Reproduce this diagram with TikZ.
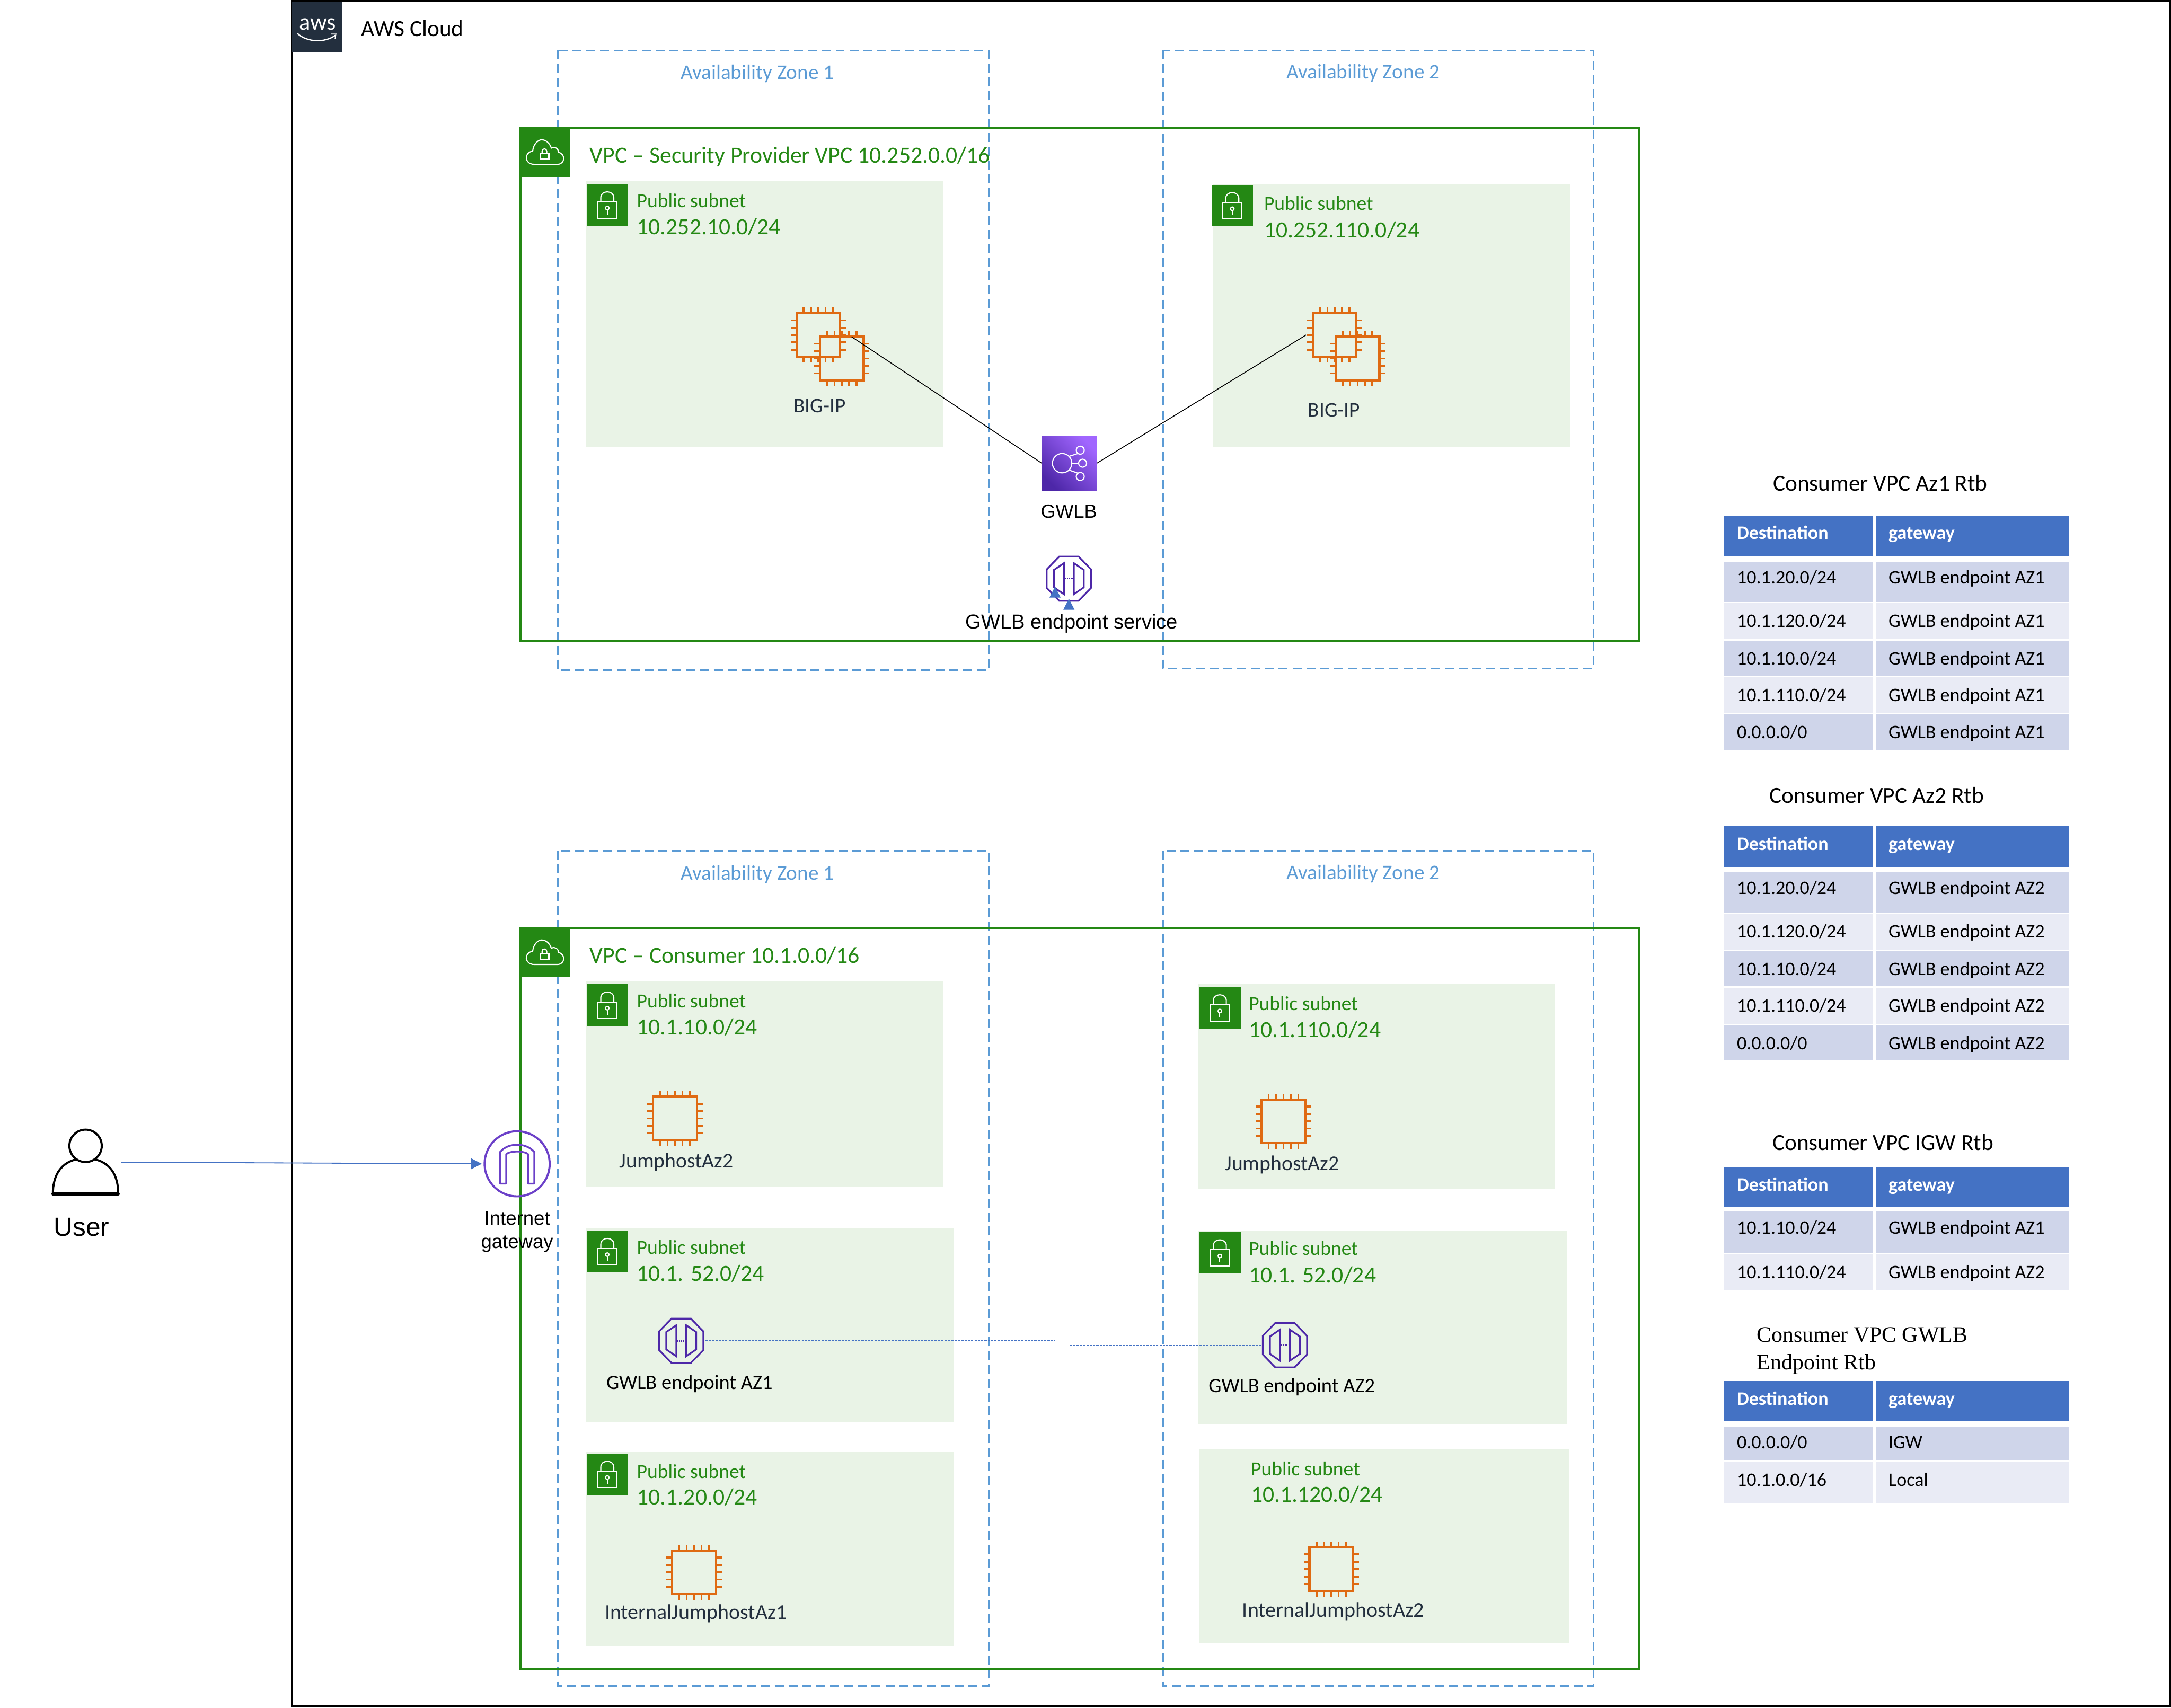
\documentclass[tikz,border=0pt]{standalone}
\usepackage{fontspec}
\setmainfont{Carlito}
\newfontfamily\arialf{Liberation Sans}
\newfontfamily\timesf{Liberation Serif}
\usetikzlibrary{arrows.meta,shadings}
\definecolor{awsdark}{HTML}{232F3E}
\definecolor{awsgreen}{HTML}{248814}
\definecolor{azblue}{HTML}{5B9BD5}
\definecolor{subnetbg}{HTML}{E9F3E6}
\definecolor{chiporange}{HTML}{DF6A12}
\definecolor{eppurple}{HTML}{4D27A8}
\definecolor{igwpurple}{HTML}{6B40C8}
\definecolor{lblue}{HTML}{4472C4}
\definecolor{rowa}{HTML}{CFD5EA}
\definecolor{rowb}{HTML}{E9EBF5}
\tikzset{
  fs/.style={font=\fontsize{#1}{#1}\selectfont,text height=0.66*#1 pt,text depth=0pt,inner sep=0pt,outer sep=0pt},
  azbox/.style={draw=azblue,line width=1.1pt,dash pattern=on 6.5pt off 3.5pt},
  vpcbox/.style={draw=awsgreen,line width=1.5pt},
  subnetbox/.style={fill=subnetbg},
  greenicon/.style={fill=awsgreen},
  whiteline/.style={draw=white,line width=0.8pt},
  chipbody/.style={draw=chiporange,line width=1.6pt,minimum size=31.5pt,inner sep=0pt,outer sep=0pt},
  chippin/.style={draw=chiporange,line width=1.3pt},
  eplink/.style={draw=lblue,line width=0.5pt,dash pattern=on 1.6pt off 0.8pt,-{Triangle[length=8pt,width=8pt,fill=lblue]}},
  eppath/.style={draw=eppurple,line width=1.2pt,line join=miter},
  hollow/.style={minimum size=32pt,inner sep=0pt,outer sep=0pt},
  glabel/.style={text=awsgreen},
  dlabel/.style={text=awsdark},
  azlabel/.style={text=azblue},
}
\newcommand{\txt}[6]{\node[fs=#5,anchor=#4] (#1) at (#2,#3) {#6};}
\newcommand{\gtxt}[5]{\node[fs=#4,anchor=west,glabel] (#1) at (#2,#3) {#5};}
\newcommand{\dtxt}[5]{\node[fs=#4,anchor=center,dlabel] (#1) at (#2,#3) {#5};}
\newcommand{\aztxt}[4]{\node[fs=15,anchor=center,azlabel] (#1) at (#2,#3) {#4};}
\newcommand{\lockicon}[3]{%
  \fill[greenicon] (#2-15,#3-15) rectangle (#2+15,#3+15);
  \begin{scope}[shift={(#2,#3)}]
    \draw[whiteline] (-7,-2.2) rectangle (7,9.7);
    \draw[whiteline] (-4.7,-2.2) -- (-4.7,-5.2) .. controls (-4.7,-10.8) and (4.7,-10.8) .. (4.7,-5.2) -- (4.7,-2.2);
    \draw[whiteline] (0,2.3) circle (1.3);
    \draw[whiteline] (0,3.6) -- (0,7);
  \end{scope}}
\newcommand{\cloudicon}[2]{%
  \fill[greenicon] (#1-17.7,#2-18) rectangle (#1+17.7,#2+18);
  \begin{scope}[shift={(#1,#2)}]
    \draw[whiteline] (-8,8.7) .. controls (-15,8.7) and (-15.5,0) .. (-9,-0.8) .. controls (-8.5,-6) and (-5,-9) .. (-2.5,-9) .. controls (1,-9) and (3.5,-6) .. (4.5,-3) .. controls (7,-4.5) and (10,-2.5) .. (9.5,0) .. controls (15,1) and (14.5,8.7) .. (9,8.7) -- cycle;
    \draw[whiteline] (-3.7,0.5) rectangle (2.7,4.8);
    \draw[whiteline] (-2.2,0.5) -- (-2.2,-0.8) .. controls (-2.2,-3) and (1.2,-3) .. (1.2,-0.8) -- (1.2,0.5);
  \end{scope}}
\newcommand{\chip}[3]{%
  \node[chipbody] (#1) at (#2,#3) {};
  \foreach \d in {-10.65,-5.3,0,5.3,10.65}{
    \draw[chippin] ([xshift=\d pt]#1.north) -- ++(0,-4.2);
    \draw[chippin] ([xshift=\d pt]#1.south) -- ++(0,4.2);
    \draw[chippin] ([yshift=\d pt]#1.west) -- ++(-4.2,0);
    \draw[chippin] ([yshift=\d pt]#1.east) -- ++(4.2,0);
  }}
\newcommand{\epicon}[3]{%
  \node[hollow] (#1) at (#2,#3) {};
  \begin{scope}[shift={(#2,#3)}]
    \draw[eppath] (-7,-16) -- (7,-16) -- (16,-6.7) -- (16,6.7) -- (7,16) -- (-7,16) -- (-16,6.7) -- (-16,-6.7) -- cycle;
    \draw[eppath] (-3.6,-11.2) -- (-10.8,-6.3) -- (-10.8,6.3) -- (-3.6,11.2) -- cycle;
    \draw[eppath] (3.6,-11.2) -- (10.8,-6.3) -- (10.8,6.3) -- (3.6,11.2) -- cycle;
    \draw[draw=eppurple,line width=1.2pt,dash pattern=on 0.7pt off 0.6pt] (-2.7,0) -- (2.7,0);
  \end{scope}}
\newcommand{\hdrrow}[3]{% name, ytop, ybot
  \fill[lblue] (1245,#2) rectangle (1353,#3);
  \fill[lblue] (1354.6,#2) rectangle (1494,#3);
  \node[fs=13.8,anchor=west,text=white] (#1d) at (1254.5,#2+12.7) {\bfseries Destination};
  \node[fs=13.8,anchor=west,text=white] (#1g) at (1364,#2+12.7) {\bfseries gateway};}
\newcommand{\tabrow}[7]{% name, ytop, ybot, colour, ytext, dest, gateway
  \fill[#4] (1245,#2) rectangle (1353,#3);
  \fill[#4] (1354.6,#2) rectangle (1494,#3);
  \node[fs=13.8,anchor=west] (#1d) at (1254.5,#5) {#6};
  \node[fs=13.8,anchor=west] (#1g) at (1364,#5) {#7};}
\newcommand{\fiverows}[3]{% name, offset, gateway
  \hdrrow{#1h}{372.4+#2}{401.6+#2}
  \tabrow{#1a}{405.6+#2}{434.7+#2}{rowa}{417+#2}{10.1.20.0/24}{#3}
  \tabrow{#1b}{435.8+#2}{461.5+#2}{rowb}{448.5+#2}{10.1.120.0/24}{#3}
  \tabrow{#1c}{462.7+#2}{488+#2}{rowa}{475.5+#2}{10.1.10.0/24}{#3}
  \tabrow{#1e}{489.4+#2}{515+#2}{rowb}{502+#2}{10.1.110.0/24}{#3}
  \tabrow{#1f}{516+#2}{541.5+#2}{rowa}{529+#2}{0.0.0.0/0}{#3}}
\begin{document}
\begin{tikzpicture}[x=1pt,y=-1pt]
\useasboundingbox (0,0) rectangle (1568,1233.5);
% AWS cloud frame
\draw[black,line width=1.4pt] (211,0.7) rectangle (1567.3,1232.3);
\fill[awsdark] (211,1.5) rectangle (247,38);
\node[fs=17,anchor=center,text=white] (awslogo) at (229.3,16.2) {aws};
\draw[white,line width=0.9pt] (214.8,24.2) .. controls (222,30.8) and (235,31) .. (242.3,25.4);
\draw[white,line width=0.7pt] (239,24.6) -- (242.6,24.6) -- (242,28);
\txt{cloudtitle}{261}{20.8}{west}{16.6}{AWS Cloud}
% availability zones
\draw[azbox] (403,36.5) rectangle (714,484);
\draw[azbox] (840,36.5) rectangle (1151,483);
\draw[azbox] (403,614.5) rectangle (714,1218);
\draw[azbox] (840,614.5) rectangle (1151,1218);
\aztxt{azA}{547}{52.3}{Availability Zone 1}
\aztxt{azB}{984.5}{51.8}{Availability Zone 2}
\aztxt{azC}{547}{630.8}{Availability Zone 1}
\aztxt{azD}{984.5}{630.3}{Availability Zone 2}
% VPCs
\draw[vpcbox] (376,92.5) rectangle (1183.5,463);
\draw[vpcbox] (376,670.5) rectangle (1183.5,1206);
\cloudicon{393.7}{110}
\cloudicon{393.7}{688}
\gtxt{vpcA}{426}{112.3}{16.75}{VPC – Security Provider VPC 10.252.0.0/16}
\gtxt{vpcB}{426}{690.3}{16.75}{VPC – Consumer 10.1.0.0/16}
% subnets
\fill[subnetbox] (423,131) rectangle (681,323);
\fill[subnetbox] (876,133) rectangle (1134,323);
\fill[subnetbox] (423,709) rectangle (681,857);
\fill[subnetbox] (865,711) rectangle (1123,859);
\fill[subnetbox] (423,887.5) rectangle (689,1027.5);
\fill[subnetbox] (865,888.7) rectangle (1131.5,1028.6);
\fill[subnetbox] (423,1049) rectangle (689,1189);
\fill[subnetbox] (866,1047) rectangle (1133,1187);
\lockicon{sA}{438.6}{148}
\lockicon{sB}{890}{148.5}
\lockicon{sC}{438.6}{726}
\lockicon{sD}{881}{728}
\lockicon{sE}{438.6}{904}
\lockicon{sF}{881}{905}
\lockicon{sG}{438.6}{1065}
\gtxt{sAa}{460}{145}{14.4}{Public subnet}
\gtxt{sAb}{460}{164}{16.7}{10.252.10.0/24}
\gtxt{sBa}{913}{147}{14.4}{Public subnet}
\gtxt{sBb}{913}{166}{16.7}{10.252.110.0/24}
\gtxt{sCa}{460}{723}{14.4}{Public subnet}
\gtxt{sCb}{460}{742}{16.7}{10.1.10.0/24}
\gtxt{sDa}{902}{725}{14.4}{Public subnet}
\gtxt{sDb}{902}{744}{16.7}{10.1.110.0/24}
\gtxt{sEa}{460}{901}{14.4}{Public subnet}
\gtxt{sEb}{460}{920}{16.7}{10.1. 52.0/24}
\gtxt{sFa}{902}{902}{14.4}{Public subnet}
\gtxt{sFb}{902}{921}{16.7}{10.1. 52.0/24}
\gtxt{sGa}{460}{1063}{14.4}{Public subnet}
\gtxt{sGb}{460}{1081.5}{16.7}{10.1.20.0/24}
\gtxt{sHa}{903.5}{1061}{14.4}{Public subnet}
\gtxt{sHb}{903.5}{1079.5}{16.7}{10.1.120.0/24}
% instances
\chip{bigipAback}{591}{242}
\chip{bigipA}{608}{259}
\chip{bigipB}{964}{242}
\chip{bigipBfront}{980.5}{259}
\chip{jumpA}{487.5}{808}
\chip{jumpB}{927}{810}
\chip{intA}{501.3}{1135.7}
\chip{intB}{961.5}{1133.5}
\dtxt{bigipAl}{592}{293}{15}{BIG-IP}
\dtxt{bigipBl}{963.5}{296}{15}{BIG-IP}
\dtxt{jumpAl}{488.5}{838.5}{15.2}{JumphostAz2}
\dtxt{jumpBl}{926}{840.5}{15.2}{JumphostAz2}
\dtxt{intAl}{502.5}{1164.5}{15.3}{InternalJumphostAz1}
\dtxt{intBl}{963}{1163}{15.3}{InternalJumphostAz2}
% GWLB
\node[minimum size=39.8pt,inner sep=0pt,outer sep=0pt,shading=axis,bottom color=eppurple,top color={rgb,255:red,161;green,102;blue,255},shading angle=-45] (gwlb) at (772.3,334.6) {};
\begin{scope}[shift={(772.3,334.6)}]
  \draw[whiteline] (-5.2,0) circle (7);
  \draw[whiteline] (7.9,-9.4) circle (2.9);
  \draw[whiteline] (9.6,0) circle (2.9);
  \draw[whiteline] (7.9,9.6) circle (2.9);
  \draw[whiteline] (0,-5) -- (6.2,-7);
  \draw[whiteline] (1.8,0) -- (6.7,0);
  \draw[whiteline] (0,5) -- (6.2,7.2);
\end{scope}
\node[fs=13.8,anchor=center] (gwlbl) at (772,369.5) {\arialf GWLB};
% endpoints
\epicon{svc}{772}{418}
\epicon{epA}{492}{968.5}
\epicon{epB}{928}{971.7}
\node[fs=14.7,anchor=center] (epAl) at (498,998.5) {GWLB endpoint AZ1};
\node[fs=14.7,anchor=center] (epBl) at (933,1001) {GWLB endpoint AZ2};
% connectors
\draw[black,line width=0.6pt] (bigipA.66) -- (gwlb.west);
\draw[black,line width=0.6pt] ([xshift=-5pt]bigipB.west) -- (gwlb.east);
\coordinate (svcInA) at (762,423.7);
\draw[eplink] ([xshift=1.4pt]epA.east) -| (svcInA);
\draw[eplink] ([xshift=-1pt]epB.west) -| ([yshift=1.5pt]svc.south);
\node[fs=14.6,anchor=center] (svcl) at (774,449.5) {\arialf GWLB endpoint service};
% user and IGW
\node[minimum width=48pt,minimum height=48pt,inner sep=0pt,outer sep=0pt] (user) at (61.8,839.5) {};
\begin{scope}[shift={(61.8,839.5)}]
  \draw[black,line width=1.5pt] (-23.6,22.8) .. controls (-23.6,11) and (-19,1) .. (-7,-2) (7,-2) .. controls (19,1) and (23.6,11) .. (23.6,22.8);
  \draw[black,line width=1.5pt,fill=white] (0,-11.8) circle (11.7);
  \draw[black,line width=2.2pt,line cap=round] (-23.6,23) -- (23.6,23);
\end{scope}
\node[fs=19,anchor=center] (userl) at (59,886.5) {\arialf User};
\node[circle,draw=igwpurple,line width=1.5pt,minimum size=47pt,inner sep=0pt,outer sep=0pt] (igw) at (373.5,840.7) {};
\begin{scope}[shift={(373.5,840.7)}]
  \draw[igwpurple,line width=1.3pt,line join=round] (-12.4,14.3) -- (-12.4,-8.5) .. controls (-9,-12.5) and (-4,-13.8) .. (0,-13.8) .. controls (4,-13.8) and (9,-12.5) .. (12.4,-8.5) -- (12.4,14.3) -- (7.9,14.3) -- (7.9,-7) .. controls (5,-9.5) and (-5,-9.5) .. (-7.9,-7) -- (-7.9,14.3) -- cycle;
\end{scope}
\draw[lblue,line width=0.7pt,-{Triangle[length=8pt,width=8pt]}] ([xshift=1.7pt]user.east) -- ([xshift=-2pt]igw.west);
\node[align=center,inner sep=0pt,font=\arialf\fontsize{14}{17}\selectfont] (igwl) at (373.5,890) {Internet\\gateway};
% tables
\node[fs=16.6,anchor=center] (tA) at (1358,349.3) {Consumer VPC Az1 Rtb};
\fiverows{rA}{0}{GWLB endpoint AZ1}
\node[fs=16.6,anchor=center] (tB) at (1355.5,574.8) {Consumer VPC Az2 Rtb};
\fiverows{rB}{224.5}{GWLB endpoint AZ2}
\node[fs=16.6,anchor=center] (tC) at (1360,825.3) {Consumer VPC IGW Rtb};
\hdrrow{rCh}{843}{871.5}
\tabrow{rCa}{875}{905}{rowa}{887}{10.1.10.0/24}{GWLB endpoint AZ1}
\tabrow{rCb}{906}{932}{rowb}{919}{10.1.110.0/24}{GWLB endpoint AZ2}
\node[fs=16,anchor=west] (tD) at (1269,964) {\timesf Consumer VPC GWLB};
\node[fs=16,anchor=west] (tE) at (1269,984) {\timesf Endpoint Rtb};
\hdrrow{rDh}{997.6}{1026.4}
\tabrow{rDa}{1030.6}{1054.5}{rowa}{1042}{0.0.0.0/0}{IGW}
\tabrow{rDb}{1055.8}{1086}{rowb}{1069}{10.1.0.0/16}{Local}
\end{tikzpicture}
\end{document}
